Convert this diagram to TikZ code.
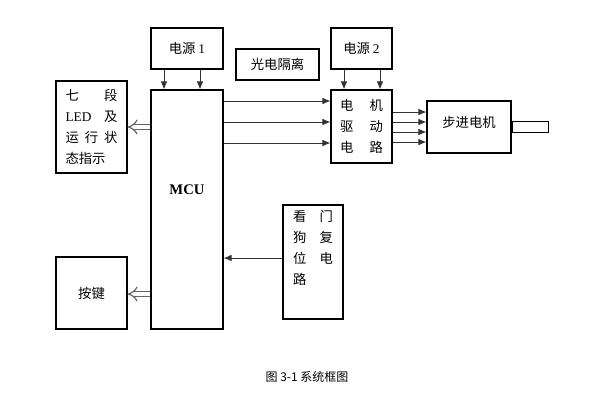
\documentclass[tikz,border=0pt]{standalone}
\usepackage{fontspec}
\setmainfont{Liberation Serif}
\newfontfamily\cjk{Noto Sans CJK SC}
\usetikzlibrary{arrows,arrows.meta}
\usetikzlibrary{positioning}
\usetikzlibrary{calc}
\tikzset{
    block/.style={draw=black, line width=0.8pt, fill=white, inner sep=0pt,
        font=\cjk\fontsize{10}{15.75}\selectfont, align=left},
    signal/.style={draw=black!80, line width=0.7pt, -{Latex[length=6pt,width=5pt]}},
    hollow/.style={draw=black!60, line width=0.9pt, double=white,
        double distance=3pt, -{Implies}},
}
\newcommand{\spreadline}[2]{\makebox[#1][s]{#2}}

\begin{document}
\begin{tikzpicture}[x=0.75pt, y=-0.75pt]
	\useasboundingbox (0,0) rectangle (592,405);
	% power supplies and controller
	\node[block, minimum width=54pt, minimum height=30.75pt] (pwra) at (187,48.5) {电源 {\rmfamily 1}};
	\node[block, minimum width=54pt, minimum height=179.25pt] (mcu) at (187,209.5) {};
	\node[font=\bfseries\fontsize{11}{13}\selectfont] (mcutxt) at (187,190) {MCU};
	\node[block, minimum width=62.25pt, minimum height=23.25pt] (iso) at (277.5,64.5) {光电隔离};
	\node[block, minimum width=45.75pt, minimum height=30.75pt] (pwrb) at (361.5,48.5) {电源 {\rmfamily 2}};
	%
	\node[block, minimum width=45.75pt, minimum height=54.75pt] (drv) at (361.5,126.5)
		{\spreadline{32pt}{电\hfill{}机}\\ \spreadline{32pt}{驱\hfill{}动}\\ \spreadline{32pt}{电\hfill{}路}};
	\node[block, minimum width=63pt, minimum height=39pt] (mot) at (469,127) {\raisebox{7pt}{步进电机}};
	\node[block, minimum width=27pt, minimum height=8.25pt, right=0pt of mot] (shaft) {};
	%
	\node[block, minimum width=53.25pt, minimum height=69pt] (led) at (91.5,127)
		{\spreadline{39pt}{七\hfill{}段}\\ \spreadline{39pt}{{\rmfamily LED}\hfill{}及}\\
		 \spreadline{39pt}{运\hfill{}行\hfill{}状}\\ 态指示};
	\node[block, minimum width=53.25pt, minimum height=54pt] (key) at (91.5,293) {按键};
	\node[block, minimum width=45pt, minimum height=85.5pt] (wdg) at (313,262)
		{\spreadline{30pt}{看\hfill{}门}\\ \spreadline{30pt}{狗\hfill{}复}\\
		 \spreadline{30pt}{位\hfill{}电}\\ 路\hspace*{20pt}\\[6pt]};
	%
	\foreach \x in {164,200}
		\draw[signal] (\x,0 |- pwra.south) -- (\x,0 |- mcu.north);
	\foreach \x in {344,380}
		\draw[signal] (\x,0 |- pwrb.south) -- (\x,0 |- drv.north);
	%
	\foreach \y in {101,122,143}
		\draw[signal] (mcu.east |- 0,\y) -- (drv.west |- 0,\y);
	\foreach \y in {112,122,132,142}
		\draw[signal] (drv.east |- 0,\y) -- (mot.west |- 0,\y);
	%
	\draw[signal] (wdg.west |- 0,258) -- (mcu.east |- 0,258);
	\draw[hollow] (mcu.west |- 0,127) -- (led.east |- 0,127);
	\draw[hollow] (mcu.west |- 0,294) -- (key.east |- 0,294);
	%
	\node[font=\cjk\fontsize{9}{11}\selectfont] (cap) at (307,377) {图 3-1 系统框图};
\end{tikzpicture}
\end{document}
